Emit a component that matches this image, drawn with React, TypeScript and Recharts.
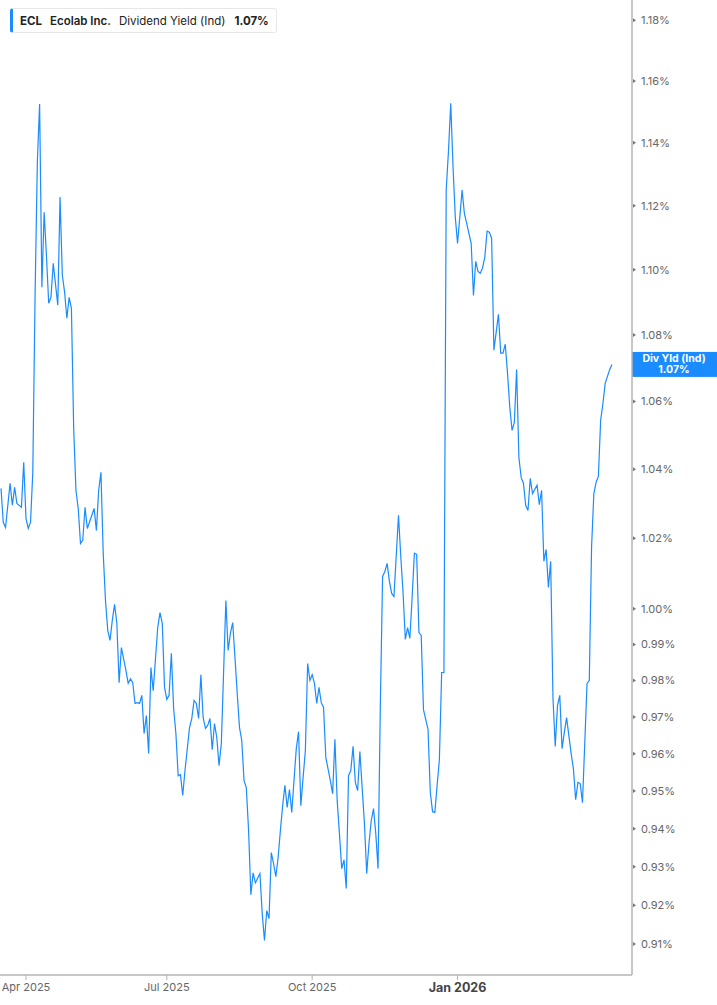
import React from "react";
import { LineChart, Line, XAxis, YAxis, ReferenceLine } from "recharts";

// trading-day index (0 = mid March 2025)
const days = [
  0, 1, 2, 4, 5, 6, 7, 9, 10, 11, 12, 13, 14, 15, 16, 17, 18, 19, 20, 21, 22, 23, 25, 26, 27,
  28, 29, 30, 31, 32, 33, 34, 35, 36, 37, 38, 40, 41, 42, 43, 44, 45, 46, 47, 48, 49, 50, 51,
  52, 53, 55, 56, 57, 58, 59, 60, 61, 62, 63, 64, 65, 66, 67, 69, 70, 71, 72, 73, 74, 75, 76,
  77, 78, 79, 80, 81, 83, 84, 85, 86, 87, 88, 89, 90, 91, 92, 93, 94, 95, 96, 97, 99, 100, 101,
  102, 103, 104, 105, 106, 107, 108, 109, 110, 111, 112, 114, 115, 116, 117, 118, 119, 120, 121,
  122, 123, 124, 125, 126, 127, 128, 130, 131, 132, 133, 134, 135, 136, 137, 138, 139, 140, 141,
  142, 143, 145, 146, 147, 148, 149, 150, 151, 152, 153, 154, 155, 156, 157, 158, 160, 161, 162,
  163, 164, 165, 166, 167, 168, 169, 170, 171, 172, 173, 175, 176, 177, 178, 179, 180, 181, 182,
  183, 184, 185, 186, 188, 189, 190, 191, 192, 193, 194, 195, 196, 197, 198, 199, 200, 201, 203,
  204, 205, 206, 207, 208, 209, 210, 211, 212, 213, 214, 215, 216, 217, 219, 220, 221, 222, 223,
  224, 225, 226, 227, 228, 229, 230, 231, 232, 233, 234, 236, 237, 238, 239, 240, 241, 242, 243,
  244, 245, 246, 247, 248, 249, 251, 252, 253, 254, 255, 256, 257, 258, 259, 260, 261, 262, 263,
  264, 265, 266, 268, 269,
];

// dividend yield (ind), percent
const yields = [
  1.0344, 1.0246, 1.0231, 1.0359, 1.0295, 1.0347, 1.03, 1.0289, 1.042, 1.0257,
  1.0228, 1.0246, 1.0391, 1.0921, 1.1338, 1.1525, 1.0946, 1.1179, 1.1045, 1.0897,
  1.0915, 1.102, 1.0891, 1.1227, 1.0983, 1.0931, 1.0851, 1.0915, 1.0881, 1.052,
  1.0338, 1.0286, 1.0185, 1.0194, 1.0289, 1.0228, 1.0266, 1.0286, 1.0222, 1.0338,
  1.0391, 1.0157, 1.0023, 0.9939, 0.9911, 0.9967, 1.0012, 0.9959, 0.9794, 0.9891,
  0.9828, 0.9792, 0.9805, 0.9794, 0.9737, 0.9739, 0.9737, 0.9759, 0.9655, 0.9704,
  0.9601, 0.9836, 0.9772, 0.9947, 0.9989, 0.9959, 0.9781, 0.9748, 0.9759, 0.9875,
  0.9723, 0.9655, 0.9541, 0.9544, 0.9488, 0.9555, 0.9671, 0.9696, 0.9745, 0.9737,
  0.9696, 0.9816, 0.9698, 0.9669, 0.9677, 0.9696, 0.9611, 0.9682, 0.9644, 0.9568,
  0.9628, 1.0023, 0.9883, 0.9931, 0.9961, 0.9864, 0.9764, 0.9671, 0.9636, 0.9528,
  0.9509, 0.9395, 0.9227, 0.9284, 0.9258, 0.9282, 0.9178, 0.9109, 0.9186, 0.9165,
  0.9337, 0.9308, 0.9274, 0.9324, 0.9395, 0.9461, 0.9515, 0.9456, 0.9504, 0.9443,
  0.9614, 0.966, 0.9461, 0.9536, 0.9609, 0.9847, 0.98, 0.9816, 0.9792, 0.9737,
  0.9781, 0.9739, 0.9726, 0.959, 0.9528, 0.9493, 0.9639, 0.9475, 0.9387, 0.9295,
  0.9318, 0.9243, 0.9541, 0.9555, 0.962, 0.9523, 0.9501, 0.9606, 0.9414, 0.9282,
  0.9361, 0.9421, 0.9453, 0.9387, 0.9295, 0.9729, 1.0091, 1.0105, 1.0128, 1.0077,
  1.0043, 1.0034, 1.0266, 1.0148, 1.0046, 0.9914, 0.9947, 0.9917, 1.0032, 1.0157,
  1.0154, 0.9933, 0.9925, 0.972, 0.9666, 0.9496, 0.9445, 0.9443, 0.9515, 0.9584,
  0.9822, 0.9822, 1.1249, 1.1373, 1.1527, 1.1325, 1.1164, 1.1082, 1.1249, 1.1176,
  1.1145, 1.1113, 1.1082, 1.0921, 1.1026, 1.0995, 1.0989, 1.1005, 1.1039, 1.112,
  1.1117, 1.1098, 1.0754, 1.0863, 1.0745, 1.0745, 1.0772, 1.0684, 1.0582, 1.0514,
  1.0538, 1.0696, 1.0435, 1.0376, 1.0359, 1.0295, 1.028, 1.0373, 1.0329, 1.0353,
  1.0297, 1.0338, 1.0134, 1.0168, 1.006, 1.0134, 0.9753, 0.962, 0.9731, 0.9759,
  0.9614, 0.9658, 0.9698, 0.9601, 0.956, 0.9477, 0.9523, 0.952, 0.9469, 0.9628,
  0.9792, 0.98, 1.0174, 1.0329, 1.0362, 1.0379, 1.0544, 1.0594, 1.0654, 1.0696,
  1.0711,
];

const xTicks = [11, 73, 137, 201];
const xTickLabels = ["Apr 2025", "Jul 2025", "Oct 2025", "Jan 2026"];

const yTicks = [
  0.91, 0.92, 0.93, 0.94, 0.95, 0.96, 0.97, 0.98, 0.99, 1.0,
  1.02, 1.04, 1.06, 1.08, 1.1, 1.12, 1.14, 1.16, 1.18,
];

const data = days.map((d, i) => ({ day: d, value: yields[i] }));
const lastValue = yields[yields.length - 1];

const BLUE = "#1a8cff";
const AXIS = "#b4b4b4";
const FONT = "Inter, 'Noto Sans', sans-serif";

function YTick(props: any) {
  const { x, y, payload } = props;
  return (
    <g>
      <path d={`M${x - 8},${y - 2} L${x - 5},${y} L${x - 8},${y + 2} Z`} fill="#777" />
      <text x={x} y={y} dy="0.35em" fontSize={11} fill="#666" fontFamily={FONT} textAnchor="start">
        {payload.value.toFixed(2)}%
      </text>
    </g>
  );
}

function XTick(props: any) {
  const { x, y, payload } = props;
  const idx = xTicks.indexOf(payload.value);
  const bold = idx === xTicks.length - 1;
  return (
    <text
      x={x}
      y={y}
      dy="0.71em"
      textAnchor="middle"
      fontSize={bold ? 12.5 : 11}
      fontWeight={bold ? 700 : 400}
      fill={bold ? "#444" : "#666"}
      fontFamily={FONT}
    >
      {xTickLabels[idx]}
    </text>
  );
}

function LastLabel(props: any) {
  const { viewBox } = props;
  const x = viewBox.x + viewBox.width;
  const y = viewBox.y;
  return (
    <g>
      <rect x={x} y={y - 12.5} width={85} height={25} fill={BLUE} />
      <text x={x + 42} y={y - 2.5} textAnchor="middle" fontSize={10.5} fontWeight={700} fill="#fff" fontFamily={FONT}>
        Div Yld (Ind)
      </text>
      <text x={x + 42} y={y + 9} textAnchor="middle" fontSize={10.5} fontWeight={700} fill="#fff" fontFamily={FONT}>
        {lastValue.toFixed(2)}%
      </text>
    </g>
  );
}

export default function App() {
  return (
    <div style={{ position: "absolute", left: 0, top: 0, width: 717, height: 1005, background: "#fff" }}>
      <LineChart width={717} height={1005} data={data} margin={{ top: 0, right: 0, bottom: 0, left: 0 }}>
        <XAxis
          dataKey="day"
          type="number"
          domain={[-0.44, 277.8]}
          allowDataOverflow
          ticks={xTicks}
          tick={<XTick />}
          height={30}
          axisLine={{ stroke: AXIS, strokeWidth: 1.5 }}
          tickLine={{ stroke: AXIS }}
          tickSize={5}
          tickMargin={3}
          interval={0}
        />
        <YAxis
          orientation="right"
          type="number"
          scale="log"
          domain={[0.9021, 1.1867]}
          allowDataOverflow
          ticks={yTicks}
          tick={<YTick />}
          width={85}
          axisLine={{ stroke: AXIS, strokeWidth: 1.5 }}
          tickLine={false}
          tickSize={6}
          tickMargin={3}
          interval={0}
        />
        <ReferenceLine y={lastValue} stroke="none" label={<LastLabel />} />
        <Line
          type="linear"
          dataKey="value"
          stroke={BLUE}
          strokeWidth={1.2}
          dot={false}
          activeDot={false}
          isAnimationActive={false}
        />
      </LineChart>
      <div
        style={{
          position: "absolute",
          left: 10,
          top: 8,
          height: 25,
          boxSizing: "border-box",
          border: "1px solid #e8e8e8",
          borderLeft: `3px solid ${BLUE}`,
          borderRadius: 3,
          background: "#fff",
          display: "flex",
          alignItems: "center",
          paddingLeft: 7,
          paddingRight: 7,
          fontFamily: FONT,
          fontSize: 11.5,
          color: "#222",
          whiteSpace: "nowrap",
        }}
      >
        <span style={{ fontWeight: 700, marginRight: 8 }}>ECL</span>
        <span style={{ fontWeight: 600, marginRight: 8 }}>Ecolab Inc.</span>
        <span style={{ fontWeight: 400, marginRight: 9 }}>Dividend Yield (Ind)</span>
        <span style={{ fontWeight: 700 }}>1.07%</span>
      </div>
    </div>
  );
}
